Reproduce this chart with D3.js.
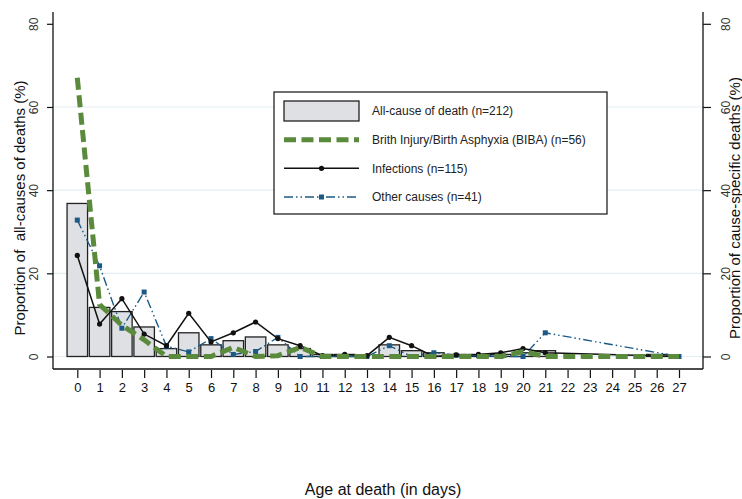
<!DOCTYPE html>
<html>
<head>
<meta charset="utf-8">
<script src="https://cdn.jsdelivr.net/npm/d3@7"></script>
<style>
  body { margin: 0; background: #fff; }
  svg { font-family: "Liberation Sans", Arial, sans-serif; display: block; }
</style>
</head>
<body>
<svg id="chart" width="742" height="499"></svg>
<script>
// Age at death, in days.
const days = d3.range(0, 28);

// All-cause of death (n=212), % per day.
const allCause = [36.8, 11.8, 10.8, 7.1, 1.9, 5.7, 2.8, 3.8, 4.7, 2.8, 1.9, 0.5, 0.5, 0, 2.8, 1.4,
  0.9, 0.5, 0.5, 0.5, 0.9, 1.4, 0, 0, 0, 0, 0.5, 0];

// Birth injury / birth asphyxia (n=56), %.
const biba = [67.0, 12.5, 7.5, 4.0, 0, 0, 0, 2.2, 0, 0.2, 2.2, 0, 0, 0, 0, 0,
  0, 0, 0, 0, 1.2, 0, 0, 0, 0, 0, 0, 0];

// Infections (n=115), %. null = no marker on that day.
const infections = [24.3, 7.8, 13.9, 5.4, 2.6, 10.4, 3.5, 5.7, 8.3, 4.3, 2.6, 0.2, 0.5, 0.2, 4.6, 2.6,
  0, 0.4, 0.5, 0.9, 1.9, 0.9, null, null, null, null, null, 0];

// Other causes (n=41), %.
const otherCauses = [32.8, 21.8, 6.8, 15.5, 2.5, 1.1, 4.3, 0.5, 1.2, 4.6, 0, 0, 0, 0, 2.6, 0,
  0.9, 0.3, 0.2, 0, 0, 5.7, null, null, null, null, null, 0];

const yTicks = [0, 20, 40, 60, 80];

const legendItems = [
  { key: "bar", label: "All-cause of death (n=212)" },
  { key: "biba", label: "Brith Injury/Birth Asphyxia (BIBA) (n=56)" },
  { key: "inf", label: "Infections (n=115)" },
  { key: "oth", label: "Other causes (n=41)" },
];

const colors = { bar: "#dfe0e3", barStroke: "#222", biba: "#5a8a3b", inf: "#111", oth: "#1b5a86", grid: "#e4eef2" };
const othDash = "9,3,1.5,3,1.5,3";

const svg = d3.select("#chart");

const plot = { left: 53, right: 703, top: 12, bottom: 369 };
const x = d3.scaleLinear().domain([0, 27]).range([77.3, 679]);
const y = d3.scaleLinear().domain([0, 80]).range([356.5, 23.8]);
const step = x(1) - x(0);

// Gridlines.
svg.append("g").selectAll("line").data(yTicks.slice(0, 4)).join("line")
  .attr("x1", plot.left).attr("x2", plot.right)
  .attr("y1", (d) => y(d)).attr("y2", (d) => y(d))
  .attr("stroke", colors.grid).attr("stroke-width", 1.2);

// Bars.
svg.append("g").selectAll("rect").data(days.filter((d) => allCause[d] > 0)).join("rect")
  .attr("x", (d) => x(d) - step * 0.46)
  .attr("width", step * 0.92)
  .attr("y", (d) => y(allCause[d]))
  .attr("height", (d) => y(0) - y(allCause[d]))
  .attr("fill", colors.bar).attr("stroke", colors.barStroke).attr("stroke-width", 1.3);

// Lines.
function seriesPoints(vals) {
  return days.filter((d) => vals[d] != null).map((d) => [d, vals[d]]);
}
const line = d3.line().x((p) => x(p[0])).y((p) => y(p[1]));

svg.append("path").datum(seriesPoints(otherCauses)).attr("d", line)
  .attr("fill", "none").attr("stroke", colors.oth).attr("stroke-width", 1.4)
  .attr("stroke-dasharray", othDash);
svg.append("g").selectAll("rect").data(seriesPoints(otherCauses)).join("rect")
  .attr("x", (p) => x(p[0]) - 2.5).attr("y", (p) => y(p[1]) - 2.5)
  .attr("width", 5).attr("height", 5).attr("fill", colors.oth);

svg.append("path").datum(seriesPoints(infections)).attr("d", line)
  .attr("fill", "none").attr("stroke", colors.inf).attr("stroke-width", 1.5);
svg.append("g").selectAll("circle").data(seriesPoints(infections).filter((p) => p[0] <= 21)).join("circle")
  .attr("cx", (p) => x(p[0])).attr("cy", (p) => y(p[1])).attr("r", 2.6).attr("fill", colors.inf);

svg.append("path").datum(seriesPoints(biba)).attr("d", line)
  .attr("fill", "none").attr("stroke", colors.biba).attr("stroke-width", 5)
  .attr("stroke-dasharray", "12,5.5");

// Axes.
const axisColor = "#111";
const gLeft = svg.append("g").attr("transform", `translate(${plot.left},0)`)
  .call(d3.axisLeft(y).tickValues(yTicks).tickSize(6).tickSizeOuter(0));
const gRight = svg.append("g").attr("transform", `translate(${plot.right},0)`)
  .call(d3.axisRight(y).tickValues(yTicks).tickSize(8).tickSizeOuter(0));
[gLeft, gRight].forEach((g) => {
  g.select(".domain").remove();
  g.selectAll("line").attr("stroke", axisColor).attr("stroke-width", 1.2);
});
gLeft.selectAll("text").attr("transform", "rotate(-90)")
  .attr("x", 0).attr("y", -15).attr("dy", 0).attr("text-anchor", "middle")
  .attr("font-size", 12).attr("fill", "#333").attr("font-family", "Liberation Sans, Arial, sans-serif");
gRight.selectAll("text").attr("transform", "rotate(-90)")
  .attr("x", 0).attr("y", 27).attr("dy", 0).attr("text-anchor", "middle")
  .attr("font-size", 12).attr("fill", "#333").attr("font-family", "Liberation Sans, Arial, sans-serif");

const gBottom = svg.append("g").attr("transform", `translate(0,${plot.bottom + 1})`)
  .call(d3.axisBottom(x).tickValues(days).tickSize(8).tickSizeOuter(0).tickPadding(5));
gBottom.select(".domain").remove();
gBottom.selectAll("line").attr("stroke", axisColor).attr("stroke-width", 1.2);
gBottom.selectAll("text").attr("font-size", 13).attr("fill", "#111")
  .attr("font-family", "Liberation Sans, Arial, sans-serif");

// Axis frame lines.
const frame = svg.append("g").attr("stroke", axisColor).attr("stroke-width", 1.3);
frame.append("line").attr("x1", plot.left).attr("x2", plot.left).attr("y1", plot.top).attr("y2", plot.bottom);
frame.append("line").attr("x1", plot.right).attr("x2", plot.right).attr("y1", plot.top).attr("y2", plot.bottom);
frame.append("line").attr("x1", plot.left).attr("x2", plot.right).attr("y1", plot.bottom).attr("y2", plot.bottom);

// Axis titles.
svg.append("text").attr("transform", "translate(25,208) rotate(-90)")
  .attr("text-anchor", "middle").attr("font-size", 15).attr("fill", "#111")
  .style("white-space", "pre")
  .text("Proportion of  all-causes of deaths (%)");
svg.append("text").attr("transform", "translate(740,208) rotate(-90)")
  .attr("text-anchor", "middle").attr("font-size", 15).attr("fill", "#111")
  .text("Proportion of cause-specific deaths (%)");
svg.append("text").attr("x", 383).attr("y", 495)
  .attr("text-anchor", "middle").attr("font-size", 16).attr("fill", "#111")
  .text("Age at death (in days)");

// Legend.
const lg = svg.append("g").attr("transform", "translate(274,92)");
lg.append("rect").attr("width", 333).attr("height", 122)
  .attr("fill", "#fff").attr("stroke", "#111").attr("stroke-width", 1.2);
const rowY = d3.scalePoint().domain(legendItems.map((d) => d.key)).range([19, 105]);
const sw = { x1: 10, x2: 85 };
legendItems.forEach((item) => {
  const cy = rowY(item.key);
  const row = lg.append("g");
  if (item.key === "bar") {
    row.append("rect").attr("x", sw.x1).attr("y", cy - 10).attr("width", sw.x2 - sw.x1).attr("height", 20)
      .attr("fill", colors.bar).attr("stroke", colors.barStroke).attr("stroke-width", 1.3);
  } else if (item.key === "biba") {
    row.append("line").attr("x1", sw.x1).attr("x2", sw.x2).attr("y1", cy).attr("y2", cy)
      .attr("stroke", colors.biba).attr("stroke-width", 5).attr("stroke-dasharray", "12,5.5");
  } else if (item.key === "inf") {
    row.append("line").attr("x1", sw.x1).attr("x2", sw.x2).attr("y1", cy).attr("y2", cy)
      .attr("stroke", colors.inf).attr("stroke-width", 1.5);
    row.append("circle").attr("cx", (sw.x1 + sw.x2) / 2).attr("cy", cy).attr("r", 2.6).attr("fill", colors.inf);
  } else {
    row.append("line").attr("x1", sw.x1).attr("x2", sw.x2).attr("y1", cy).attr("y2", cy)
      .attr("stroke", colors.oth).attr("stroke-width", 1.4).attr("stroke-dasharray", othDash);
    row.append("rect").attr("x", (sw.x1 + sw.x2) / 2 - 2.5).attr("y", cy - 2.5)
      .attr("width", 5).attr("height", 5).attr("fill", colors.oth);
  }
  row.append("text").attr("x", 98).attr("y", cy).attr("dy", "0.35em")
    .attr("font-size", 12).attr("fill", "#222").text(item.label);
});
</script>
</body>
</html>
